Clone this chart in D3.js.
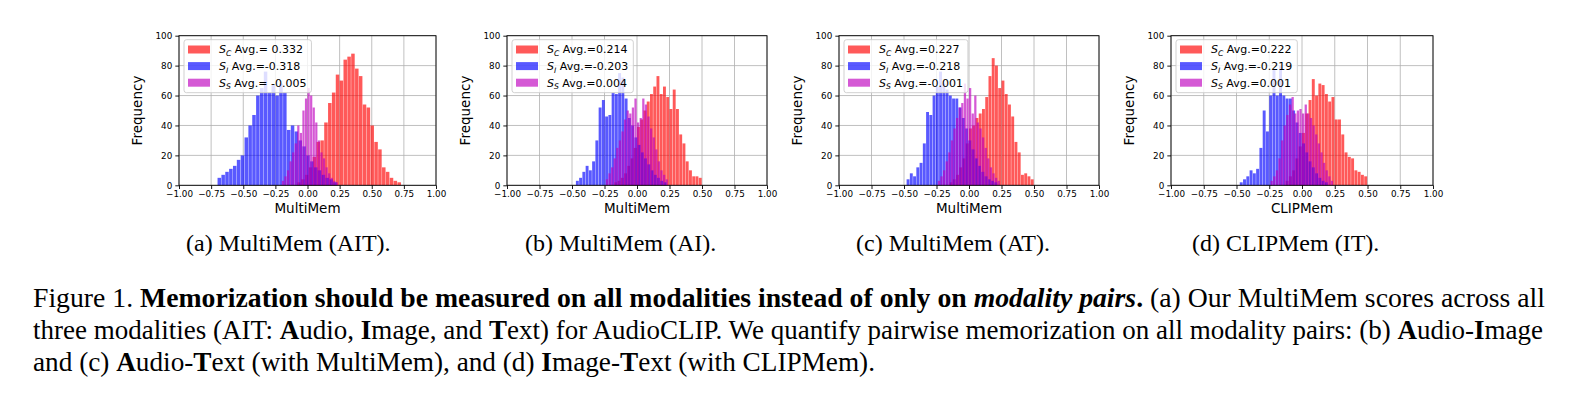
<!DOCTYPE html>
<html>
<head>
<meta charset="utf-8">
<script src="https://cdn.jsdelivr.net/npm/d3@7"></script>
<style>
  body { margin: 0; background: #fff; }
  svg { display: block; }
</style>
</head>
<body>
<svg id="fig"></svg>
<script>
// ---- data ----
const xTicks = [-1, -0.75, -0.5, -0.25, 0, 0.25, 0.5, 0.75, 1];
const yTicks = [0, 20, 40, 60, 80, 100];

const xLabels = ["MultiMem", "MultiMem", "MultiMem", "CLIPMem"];
const subCaptions = ["(a) MultiMem (AIT).", "(b) MultiMem (AI).", "(c) MultiMem (AT).", "(d) CLIPMem (IT)."];

const legendC = ["Avg.= 0.332", "Avg.=0.214", "Avg.=0.227", "Avg.=0.222"];
const legendI = ["Avg.=-0.318", "Avg.=-0.203", "Avg.=-0.218", "Avg.=-0.219"];
const legendS = ["Avg.= -0.005", "Avg.=0.004", "Avg.=-0.001", "Avg.=0.001"];

// first bin edge and bin width of each histogram
const startC = [-0.08, -0.175, -0.15, -0.125];
const widthC = [0.03, 0.025, 0.025, 0.025];
const startI = [-0.70, -0.47, -0.48, -0.475];
const widthI = [0.03, 0.025, 0.025, 0.025];
const startS = [-0.20, -0.24, -0.24, -0.24];
const widthS = [0.02, 0.02, 0.02, 0.02];

// counts (S_C red, S_I blue, S_S magenta)
const redA = [2, 4, 7, 12, 19, 29, 30, 42, 55, 62, 74, 70, 84, 86, 88, 78, 73, 54, 52, 40, 29, 24, 12, 9, 5, 3, 2];
const blueA = [5, 7, 9, 11, 13, 17, 20, 32, 40, 47, 60, 65, 76, 62, 67, 60, 68, 62, 37, 40, 36, 30, 26, 20, 16, 12, 10, 7, 5, 4, 2];
const magA = [3, 6, 10, 16, 22, 28, 40, 35, 50, 58, 65, 60, 52, 42, 30, 22, 18, 12, 8, 5, 3, 2];

const redB = [2, 3, 5, 8, 13, 18, 25, 39, 44, 50, 56, 61, 66, 73, 61, 66, 59, 51, 64, 51, 34, 28, 16, 10, 6, 6, 5];
const blueB = [3, 5, 9, 13, 10, 16, 30, 52, 57, 46, 47, 62, 61, 75, 72, 58, 45, 40, 32, 27, 22, 18, 14, 10, 7, 5, 3, 2];
const magB = [4, 8, 12, 18, 25, 30, 36, 44, 50, 48, 52, 58, 42, 45, 58, 54, 46, 38, 32, 24, 16, 10, 7, 4];

const redC = [2, 4, 7, 12, 18, 28, 38, 40, 45, 48, 51, 59, 73, 85, 80, 65, 70, 61, 54, 46, 29, 22, 7, 8, 6, 4];
const blueC = [4, 8, 6, 12, 15, 28, 49, 47, 60, 66, 76, 68, 64, 60, 58, 58, 52, 45, 38, 30, 24, 18, 13, 9, 6, 4, 3, 2];
const magC = [3, 6, 10, 16, 22, 30, 38, 45, 52, 55, 68, 58, 65, 48, 60, 42, 38, 32, 25, 18, 12, 8, 5, 3];

const redD = [3, 6, 10, 18, 26, 35, 48, 57, 71, 60, 68, 67, 61, 56, 59, 44, 44, 34, 22, 19, 18, 10, 9, 7, 6];
const blueD = [2, 4, 6, 10, 8, 11, 25, 50, 36, 60, 77, 60, 80, 60, 58, 58, 50, 42, 35, 28, 22, 16, 12, 8, 5, 3, 2];
const magD = [3, 6, 10, 18, 30, 40, 47, 54, 59, 48, 50, 51, 48, 54, 48, 45, 40, 34, 28, 22, 15, 10, 6, 3];

const countsC = [redA, redB, redC, redD];
const countsI = [blueA, blueB, blueC, blueD];
const countsS = [magA, magB, magC, magD];

// ---- layout ----
const W = 1575, H = 411;
const panelLeft = [179, 507, 839, 1171];
const panelRight = [436, 767, 1099, 1433];
const plotTop = 35.7, plotBottom = 185.3;
const subCapX = [186, 525, 856, 1192];

const chartFont = "'DejaVu Sans', sans-serif";
const serifFont = "'Liberation Serif', 'Times New Roman', serif";

const svg = d3.select("#fig").attr("width", W).attr("height", H);
svg.append("rect").attr("width", W).attr("height", H).attr("fill", "#fff");

const series = [
  { name: "C", color: "#ff0000", starts: startC, widths: widthC, counts: countsC, legend: legendC },
  { name: "I", color: "#0000ff", starts: startI, widths: widthI, counts: countsI, legend: legendI },
  { name: "S", color: "#bf00bf", starts: startS, widths: widthS, counts: countsS, legend: legendS }
];
const barAlpha = 0.65;

function drawPanel(i) {
  const x = d3.scaleLinear().domain([-1, 1]).range([panelLeft[i], panelRight[i]]);
  const y = d3.scaleLinear().domain([0, 100]).range([plotBottom, plotTop]);
  const g = svg.append("g");

  // grid
  g.append("g").selectAll("line").data(xTicks).join("line")
    .attr("x1", d => x(d)).attr("x2", d => x(d))
    .attr("y1", plotTop).attr("y2", plotBottom)
    .attr("stroke", "#b0b0b0").attr("stroke-width", 0.8);
  g.append("g").selectAll("line").data(yTicks).join("line")
    .attr("x1", panelLeft[i]).attr("x2", panelRight[i])
    .attr("y1", d => y(d)).attr("y2", d => y(d))
    .attr("stroke", "#b0b0b0").attr("stroke-width", 0.8);

  // histograms
  series.forEach(s => {
    const bins = s.counts[i].map((v, k) => ({
      x0: s.starts[i] + k * s.widths[i],
      x1: s.starts[i] + (k + 1) * s.widths[i],
      v: v
    }));
    g.append("g").selectAll("rect").data(bins).join("rect")
      .attr("x", d => x(d.x0))
      .attr("width", d => Math.max(0, x(d.x1) - x(d.x0) - 0.35))
      .attr("y", d => y(d.v))
      .attr("height", d => y(0) - y(d.v))
      .attr("fill", s.color)
      .attr("fill-opacity", barAlpha);
  });

  // frame
  g.append("rect")
    .attr("x", panelLeft[i]).attr("y", plotTop)
    .attr("width", panelRight[i] - panelLeft[i]).attr("height", plotBottom - plotTop)
    .attr("fill", "none").attr("stroke", "#000").attr("stroke-width", 0.9);

  // axes
  const xAxis = g.append("g")
    .attr("transform", `translate(0,${plotBottom})`)
    .call(d3.axisBottom(x).tickValues(xTicks).tickFormat(d3.format(".2f")).tickSize(3.7).tickPadding(2));
  const yAxis = g.append("g")
    .attr("transform", `translate(${panelLeft[i]},0)`)
    .call(d3.axisLeft(y).tickValues(yTicks).tickSize(3.7).tickPadding(3));
  [xAxis, yAxis].forEach(a => {
    a.select(".domain").remove();
    a.selectAll("line").attr("stroke", "#000").attr("stroke-width", 0.9);
    a.selectAll("text").attr("fill", "#000")
      .style("font-family", chartFont).style("font-size", "8.8px");
  });

  // axis labels
  g.append("text")
    .attr("x", (panelLeft[i] + panelRight[i]) / 2)
    .attr("y", plotBottom + 28)
    .attr("text-anchor", "middle")
    .style("font-family", chartFont).style("font-size", "13.5px")
    .text(xLabels[i]);
  g.append("text")
    .attr("transform", `translate(${panelLeft[i] - 37.5},${(plotTop + plotBottom) / 2}) rotate(-90)`)
    .attr("text-anchor", "middle")
    .style("font-family", chartFont).style("font-size", "13.5px")
    .text("Frequency");

  // legend
  const lg = g.append("g").attr("transform", `translate(${panelLeft[i] + 5},${plotTop + 4})`);
  const box = lg.append("rect")
    .attr("rx", 2.5).attr("ry", 2.5)
    .attr("fill", "#fff").attr("fill-opacity", 0.8)
    .attr("stroke", "#cccccc").attr("stroke-width", 0.9)
    .attr("height", 53);
  let maxW = 0;
  series.forEach((s, r) => {
    const cy = 9.8 + r * 16.6;
    lg.append("rect")
      .attr("x", 4).attr("y", cy - 4).attr("width", 22).attr("height", 8)
      .attr("fill", s.color).attr("fill-opacity", barAlpha);
    const t = lg.append("text")
      .attr("x", 35).attr("y", cy + 4)
      .style("font-family", chartFont).style("font-size", "11px");
    t.append("tspan").style("font-style", "italic").text("S");
    t.append("tspan").style("font-style", "italic").style("font-size", "7.7px")
      .attr("dy", 2.6).text(s.name);
    t.append("tspan").attr("dy", -2.6).text(" " + s.legend[i]);
    maxW = Math.max(maxW, t.node().getComputedTextLength());
  });
  box.attr("width", 35 + maxW + 5);

  // sub caption
  svg.append("text")
    .attr("x", subCapX[i]).attr("y", 250.5)
    .style("font-family", serifFont).style("font-size", "24px")
    .text(subCaptions[i]);
}

for (let i = 0; i < 4; i++) drawPanel(i);

// ---- figure caption ----
const captionLines = [
  [["Figure 1. ", "r"], ["Memorization should be measured on all modalities instead of only on ", "b"],
   ["modality pairs", "bi"], [".", "b"], [" (a) Our MultiMem scores across all", "r"]],
  [["three modalities (AIT: ", "r"], ["A", "b"], ["udio, ", "r"], ["I", "b"], ["mage, and ", "r"], ["T", "b"],
   ["ext) for AudioCLIP. We quantify pairwise memorization on all modality pairs: (b) ", "r"],
   ["A", "b"], ["udio-", "r"], ["I", "b"], ["mage", "r"]],
  [["and (c) ", "r"], ["A", "b"], ["udio-", "r"], ["T", "b"], ["ext (with MultiMem), and (d) ", "r"],
   ["I", "b"], ["mage-", "r"], ["T", "b"], ["ext (with CLIPMem).", "r"]]
];
const captionY = [307, 339, 371];
const captionFit = [1512, 1510, 842];

captionLines.forEach((parts, li) => {
  const t = svg.append("text")
    .attr("x", 33).attr("y", captionY[li])
    .attr("xml:space", "preserve")
    .style("font-family", serifFont).style("font-size", "26.5px");
  parts.forEach(([txt, st]) => {
    t.append("tspan")
      .style("font-weight", st.includes("b") ? "bold" : "normal")
      .style("font-style", st.includes("i") ? "italic" : "normal")
      .text(txt);
  });
  t.attr("textLength", captionFit[li]).attr("lengthAdjust", "spacingAndGlyphs");
});
</script>
</body>
</html>
